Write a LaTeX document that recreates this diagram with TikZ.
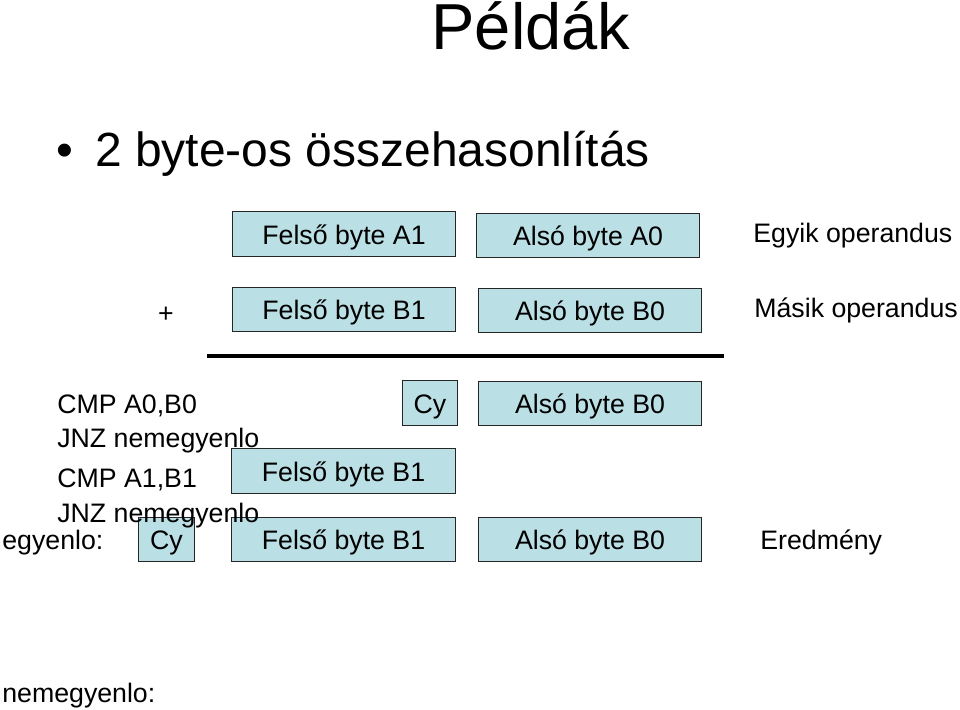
\documentclass[tikz,border=0pt]{standalone}
\usepackage{fontspec}
\setmainfont{Liberation Sans}
\definecolor{boxfill}{RGB}{186,223,228}
\begin{document}
\begin{tikzpicture}[x=0.2mm,y=-0.2mm,
    txt/.style={font=\fontsize{15.2}{17}\selectfont, inner sep=0pt},
    lefttxt/.style={txt, anchor=base west},
    bytebox/.style={txt, draw=black!85, line width=0.8pt, fill=boxfill,
        minimum width=44.7mm, minimum height=8.9mm, text height=4.1mm, text depth=0pt},
    cybox/.style={bytebox, minimum width=11.1mm}]
    \useasboundingbox (0,0) rectangle (960,710);

    % Title and bullet
    \node[anchor=base, inner sep=0pt, font=\fontsize{37}{40}\selectfont] (title) at (531,50) {Példák};
    \node[anchor=base, inner sep=0pt, font=\fontsize{27.3}{30}\selectfont] (bullet) at (65,167) {•};
    \node[anchor=base west, inner sep=0pt, font=\fontsize{27.3}{30}\selectfont] (point) at (95,167) {2 byte-os összehasonlítás};

    % Operands
    \node[bytebox] (a1) at (344,234) {Felső byte A1};
    \node[bytebox] (a0) at (588,235.5) {Alsó byte A0};
    \node[lefttxt] (egyik) at (753,243) {Egyik operandus};
    \node[txt, anchor=base] (plus) at (166,322) {+};
    \node[bytebox] (b1) at (344,309.5) {Felső byte B1};
    \node[bytebox] (b0) at (590,310.5) {Alsó byte B0};
    \node[lefttxt] (masik) at (754,317) {Másik operandus};

    % Sum line
    \coordinate (lineL) at (207,356);
    \coordinate (lineR) at (724,356);
    \draw[line width=2.3pt] (lineL) -- (lineR);

    % Compare steps
    \node[cybox] (cy1) at (430,403) {Cy};
    \node[bytebox] (r3b0) at (590,403.5) {Alsó byte B0};
    \node[bytebox] (r4b1) at (343.5,471) {Felső byte B1};
    \node[cybox] (cy2) at (166.5,539.5) {Cy};
    \node[bytebox] (r5b1) at (343.5,539.5) {Felső byte B1};
    \node[bytebox] (r5b0) at (590,539.5) {Alsó byte B0};
    \node[lefttxt] (eredmeny) at (760,549) {Eredmény};

    % Code lines
    \node[lefttxt] (cmp0) at (57,413) {CMP A0,B0};
    \node[lefttxt] (jnz0) at (57,447) {JNZ nemegyenlo};
    \node[lefttxt] (cmp1) at (57,487) {CMP A1,B1};
    \node[lefttxt] (jnz1) at (57,522) {JNZ nemegyenlo};
    \node[lefttxt] (egyenlo) at (2,549) {egyenlo:};
    \node[lefttxt] (nemegyenlo) at (2,702) {nemegyenlo:};
\end{tikzpicture}
\end{document}
